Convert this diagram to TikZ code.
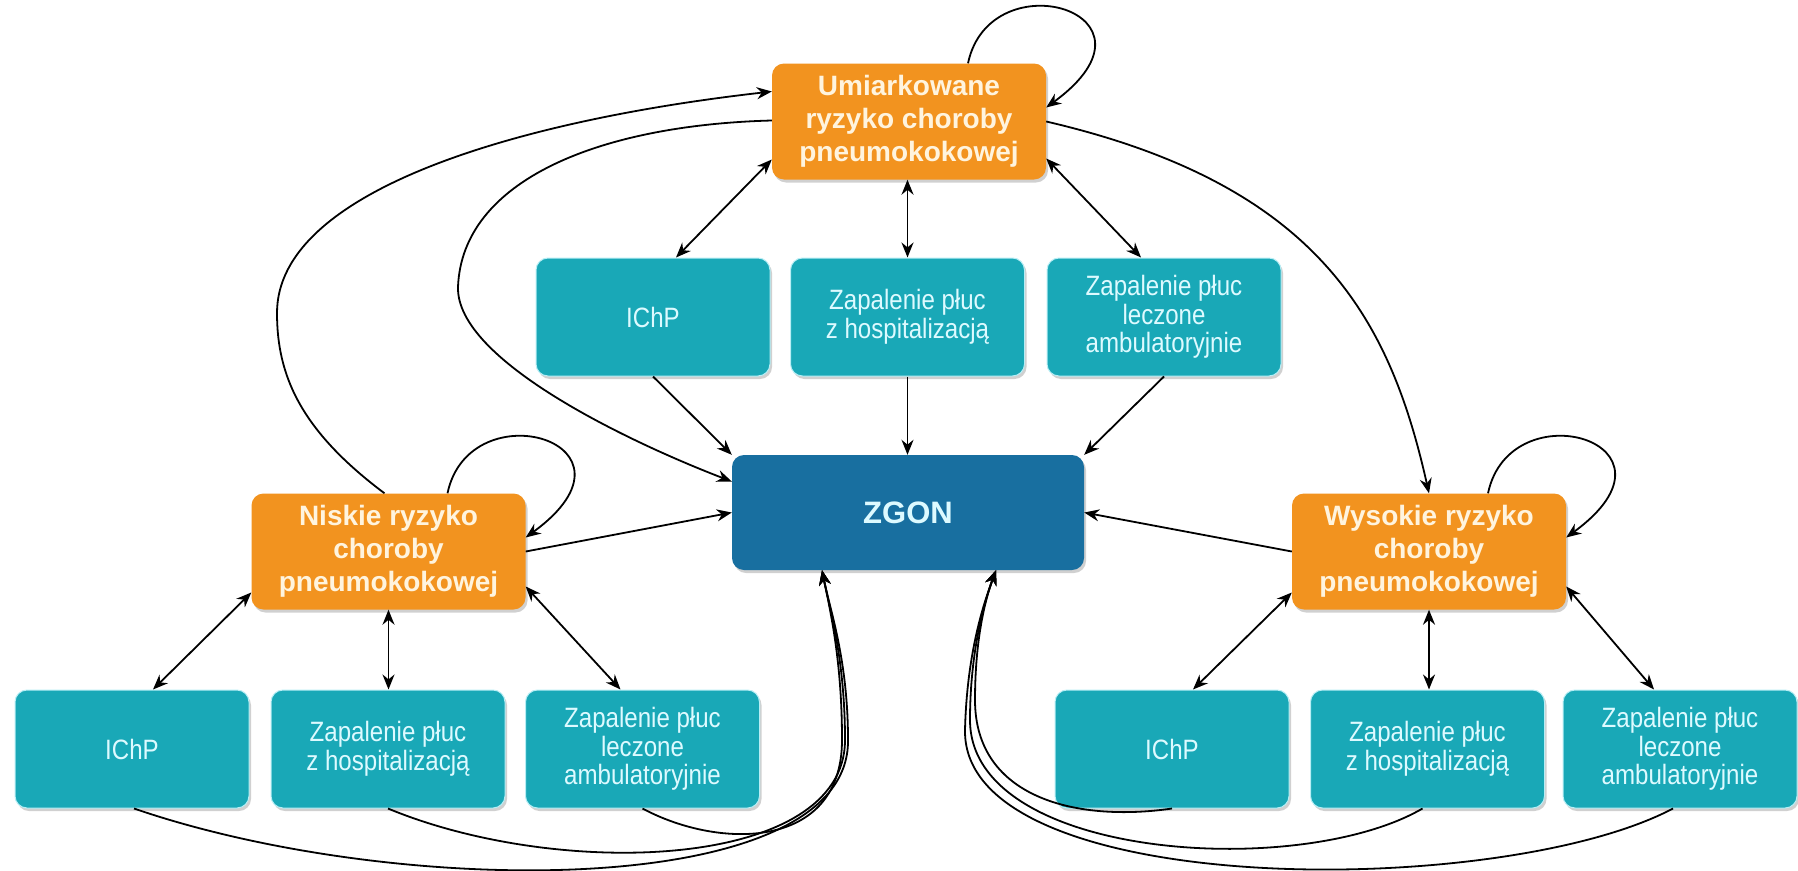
\documentclass[tikz,border=0pt]{standalone}
\usepackage{fontspec}
\setmainfont{Liberation Sans}
\newfontfamily\narrowf[FakeStretch=0.86]{Liberation Sans}
\usetikzlibrary{arrows.meta,shadows}
\definecolor{orangebox}{HTML}{F2931F}
\definecolor{tealbox}{HTML}{19A8B7}
\definecolor{bluebox}{HTML}{186FA0}
\definecolor{creamtxt}{HTML}{FFF4DE}
\definecolor{cyantxt}{HTML}{DDFAFF}
\definecolor{glow}{HTML}{B8EEF5}
\begin{document}
\begin{tikzpicture}[x=1pt,y=-1pt,
  box/.style={rounded corners=12pt, inner sep=0pt, align=center,
    drop shadow={shadow xshift=2pt,shadow yshift=-3pt,opacity=0.3,fill=black!60}},
  riskbox/.style={box, fill=orangebox, text=creamtxt, minimum width=274pt, minimum height=116pt,
    font=\bfseries\fontsize{28}{33}\selectfont},
  statebox/.style={box, fill=tealbox, draw=glow, line width=1pt, text=cyantxt,
    minimum width=234pt, minimum height=118pt, font=\narrowf\fontsize{28}{28.5}\selectfont},
  deathbox/.style={box, fill=bluebox, text=cyantxt, minimum width=352pt, minimum height=115pt,
    font=\bfseries\fontsize{31}{36}\selectfont},
  conn/.style={line width=1.8pt, -{Stealth[length=15pt,width=12pt]}},
  dconn/.style={line width=1.8pt, {Stealth[length=15pt,width=12pt]}-{Stealth[length=15pt,width=12pt]}}
]
\useasboundingbox[fill=white] (0,0) rectangle (1798,870);

% nodes
\node[riskbox] (U) at (909,121.5) {Umiarkowane\\ryzyko choroby\\pneumokokowej};
\node[statebox] (T1) at (653,317) {IChP};
\node[statebox] (T2) at (907.5,317) {Zapalenie płuc\\z hospitalizacją};
\node[statebox] (T3) at (1164,317) {Zapalenie płuc\\leczone\\ambulatoryjnie};
\node[deathbox] (Z) at (908,512.5) {ZGON};
\node[riskbox] (L) at (388.5,551.5) {Niskie ryzyko\\choroby\\pneumokokowej};
\node[riskbox] (R) at (1429,551.5) {Wysokie ryzyko\\choroby\\pneumokokowej};
\node[statebox] (LB1) at (132,749) {IChP};
\node[statebox] (LB2) at (388,749) {Zapalenie płuc\\z hospitalizacją};
\node[statebox] (LB3) at (642.5,749) {Zapalenie płuc\\leczone\\ambulatoryjnie};
\node[statebox] (RB1) at (1172,749) {IChP};
\node[statebox] (RB2) at (1427.5,749) {Zapalenie płuc\\z hospitalizacją};
\node[statebox] (RB3) at (1680,749) {Zapalenie płuc\\leczone\\ambulatoryjnie};

% self loops
\draw[conn] ([xshift=59pt]U.north) .. controls +(22,-105) and +(130,-95) .. ([yshift=14pt]U.east);
\draw[conn] ([xshift=59pt]L.north) .. controls +(22,-105) and +(130,-95) .. ([yshift=14pt]L.east);
\draw[conn] ([xshift=59pt]R.north) .. controls +(22,-105) and +(130,-95) .. ([yshift=14pt]R.east);

% U -> R
\draw[conn] (U.east) .. controls (1320,185) and (1390,320) .. (R.north);
% L -> U
\draw[conn] ([xshift=-4pt]L.north) .. controls (300,430) and (277,375) .. (277,313)
  .. controls (277,190) and (520,120) .. ([yshift=30pt]U.west);
% U -> Z
\draw[conn] ([yshift=1pt]U.west) .. controls (600,125) and (462,180) .. (458,287)
  .. controls (456,360) and (629,442) .. ([yshift=31pt]Z.west);

% top row
\draw[dconn] ([xshift=23pt]T1.north) -- ([yshift=-38pt]U.west);
\draw[dconn] (T2.north) -- (T2.north |- U.south);
\draw[dconn] ([xshift=-23pt]T3.north) -- ([yshift=-37pt]U.east);
\draw[conn] (T1.south) -- (Z.north west);
\draw[conn] (T2.south) -- (T2.south |- Z.north);
\draw[conn] (T3.south) -- (Z.north east);

% sides -> Z
\draw[conn] (L.east) -- (Z.west);
\draw[conn] (R.west) -- (Z.east);

% lower double arrows
\draw[dconn] ([yshift=-41pt]L.west) -- ([xshift=21pt]LB1.north);
\draw[dconn] (L.south) -- (L.south |- LB2.north);
\draw[dconn] ([yshift=-35pt]L.east) -- ([xshift=-22pt]LB3.north);
\draw[dconn] ([yshift=-41pt]R.west) -- ([xshift=21pt]RB1.north);
\draw[dconn] (R.south) -- (R.south |- RB2.north);
\draw[dconn] ([yshift=-35pt]R.east) -- ([xshift=-26pt]RB3.north);

% bottom curves into Z
\coordinate (ZL) at ([xshift=-86pt]Z.south);
\coordinate (ZR) at ([xshift=88pt]Z.south);
\draw[conn] ([xshift=2pt]LB1.south) .. controls (400,900) and (850,900) .. (848,740)
  .. controls (848,660) and (830,610) .. (ZL);
\draw[conn] (LB2.south) .. controls (560,880) and (845,870) .. (845,740)
  .. controls (845,660) and (830,610) .. (ZL);
\draw[conn] (LB3.south) .. controls (720,850) and (842,850) .. (842,740)
  .. controls (842,660) and (830,610) .. (ZL);
\draw[conn] (RB1.south) .. controls (1080,822) and (975,800) .. (975,700)
  .. controls (975,640) and (985,600) .. (ZR);
\draw[conn] ([xshift=-5pt]RB2.south) .. controls (1300,880) and (970,860) .. (970,720)
  .. controls (970,650) and (985,600) .. (ZR);
\draw[conn] ([xshift=-7pt]RB3.south) .. controls (1500,900) and (962,900) .. (965,730)
  .. controls (967,650) and (985,600) .. (ZR);
\end{tikzpicture}
\end{document}
